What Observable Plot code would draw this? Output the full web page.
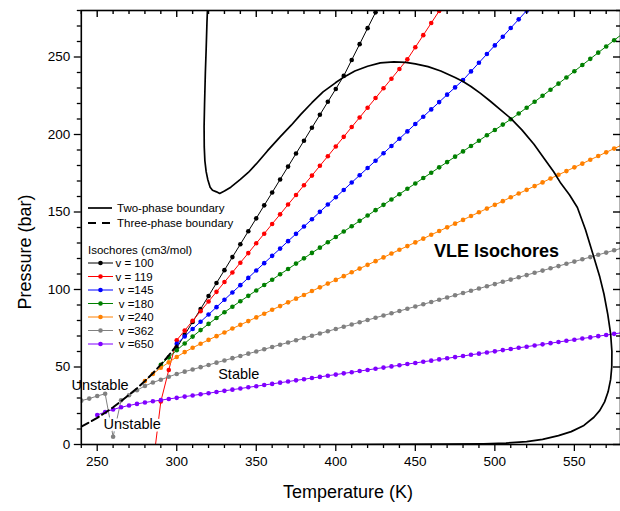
<!DOCTYPE html>
<html><head><meta charset="utf-8">
<script src="https://cdn.jsdelivr.net/npm/d3@7"></script>
<script src="https://cdn.jsdelivr.net/npm/@observablehq/plot@0.6"></script>
<style>
html,body{margin:0;padding:0;background:#fff;}
#chart svg{display:block;}
</style></head><body><div id="chart"></div><script>
// ---- axis ticks ----
const xTicks = [250, 300, 350, 400, 450, 500, 550];
const yTicks = [0, 50, 100, 150, 200, 250];

// ---- isochores: start temperature (K), pressures (bar) every 5 K ----
const seriesLabels = ["v = 100", "v = 119", " v =145", " v =180", " v =240", " v =362", " v =650"];
const seriesColors = ["#000000", "#ff0000", "#0000ff", "#008000", "#ff8000", "#808080", "#8000ff"];
const v100Start = 300;
const v100P = [62.4,70.7,79.1,87.4,95.8,104.2,112.5,120.9,129.2,137.6,145.9,154.3,162.6,171.0,179.3,187.7,196.0,204.4,212.7,221.1,229.4,237.8,248.1,258.3,268.6,278.8,289.0];
const v119Start = 285;
const v119P = [-14,27.7,48.1,67.3,73.5,79.8,86.0,92.3,98.5,104.8,111.0,117.3,123.5,129.8,136.0,142.3,148.5,154.8,161.0,167.3,173.5,179.8,186.0,192.3,198.5,204.8,211.0,217.3,223.5,229.8,236.0,242.3,248.5,256.3,264.1,271.9,279.7,287.5];
const v145Start = 300;
const v145P = [65.0,69.7,74.5,79.2,83.9,88.6,93.4,98.1,102.8,107.5,112.3,117.0,121.7,126.4,131.2,135.9,140.6,145.3,150.1,154.8,159.5,164.2,169.0,173.7,178.4,183.1,187.9,192.6,197.3,202.0,206.8,211.5,216.2,220.9,225.7,230.4,235.1,240.7,246.3,251.9,257.5,263.1,268.7,274.3,279.9,285.5];
const v180Start = 290;
const v180P = [51.5,56.2,60.8,65.2,69.6,73.8,77.8,81.6,85.3,88.9,92.4,95.9,99.4,102.9,106.3,109.8,113.2,116.7,120.1,123.6,127.0,130.5,133.9,137.4,140.8,144.3,147.7,151.2,154.6,158.1,161.5,165.0,168.4,171.9,175.3,178.8,182.2,185.7,189.1,192.6,196.0,199.5,202.9,206.4,209.8,213.5,217.3,221.1,225.0,228.9,232.8,236.8,240.8,244.8,248.8,252.8,256.8,260.8,264.8];
const v240Start = 280;
const v240P = [41.0,45.5,49.5,53.0,56.5,59.6,62.4,65.0,67.5,69.9,72.3,74.8,77.2,79.6,82.0,84.4,86.9,89.3,91.7,94.1,96.5,99.0,101.4,103.8,106.2,108.6,111.1,113.5,115.9,118.3,120.7,123.2,125.6,128.0,130.4,132.8,135.3,137.7,140.1,142.5,144.9,147.4,149.8,152.2,154.6,157.0,159.5,161.9,164.3,166.7,169.1,171.6,174.0,176.4,178.8,181.2,183.7,186.1,188.5,190.9,193.3];
const v362Start = 240;
const v362P = [28.3,29.6,31.3,32.7,5.0,28.5,31.8,35.0,37.8,40.0,41.8,43.7,45.5,47.0,48.4,49.9,51.3,52.8,54.2,55.7,57.1,58.6,60.0,61.5,62.9,64.4,65.8,67.3,68.7,70.2,71.6,73.1,74.5,76.0,77.4,78.9,80.3,81.8,83.2,84.7,86.1,87.6,89.0,90.5,91.9,93.4,94.8,96.3,97.7,99.2,100.6,102.1,103.5,105.0,106.4,107.9,109.3,110.8,112.2,113.7,115.1,116.6,118.0,119.5,120.9,122.4,123.8,125.3,126.7];
const v650Start = 250;
const v650P = [19.0,21.0,22.6,24.0,25.2,26.2,27.1,27.9,28.6,29.4,30.1,30.9,31.6,32.4,33.1,33.9,34.6,35.4,36.1,36.9,37.6,38.4,39.1,39.9,40.6,41.4,42.1,42.9,43.6,44.4,45.1,45.9,46.6,47.4,48.1,48.9,49.6,50.4,51.1,51.9,52.6,53.4,54.1,54.9,55.6,56.4,57.1,57.9,58.6,59.4,60.1,60.9,61.6,62.4,63.1,63.9,64.6,65.4,66.1,66.9,67.6,68.4,69.1,69.9,70.6,71.4,72.1];

// ---- phase boundaries ----
const twoPhaseT = [319.3,319.0,318.5,318.0,317.5,317.2,317.3,317.7,318.5,319.5,321.0,322.5,325.0,327.0,330.0,334.0,340.0,345.0,350.0,357.0,365.0,372.0,378.0,385.0,392.0,400.0,405.0,412.0,420.0,428.0,436.5,444.0,450.0,458.0,466.0,475.0,480.0,485.0,491.0,497.0,504.0,510.0,517.0,524.6,531.0,537.0,541.5,547.0,551.9,557.0,562.3,566.0,568.6,571.0,572.8,573.6,573.5,572.8,571.2,569.0,566.0,562.3,556.0,548.0,540.0,530.0,520.0,507.0,493.0,470.0,440.0,410.0];
const twoPhaseP = [280,272,255,240,220,205,192,183,176,171,166,164,163,162,163.5,166,171,175.5,181,189.4,198.5,206,213,220.5,227.5,233.5,237.0,241.0,244.0,246.2,246.8,246.5,245.6,243.8,241.0,236.8,234.2,231.0,226.5,221.6,215.5,210.4,203.0,193.7,184.5,176.0,168.5,161,152.9,138.5,120.7,108,97.1,84,71.3,60,50,42,34,27.5,22,17.6,12.3,8.3,5.7,3.3,1.8,0.9,0.5,0.2,0.05,0];
const threePhaseT = [240,245,250,255,260,265,270,275,280,285,290,295,300];
const threePhaseP = [11.5,14.3,17.2,20.5,24,28,32,36.3,41,46,51.5,57.5,64];

// ---- annotations ----
const noteText = ["VLE Isochores", "Stable", "Unstable", "Unstable"];
const noteT = [501, 339, 251.8, 272];
const noteP = [125, 45, 38, 13];

const starts = [v100Start, v119Start, v145Start, v180Start, v240Start, v362Start, v650Start];
const pressures = [v100P, v119P, v145P, v180P, v240P, v362P, v650P];
const seriesRows = pressures.map((ps, k) => ps.map((p, i) => ({T: starts[k] + 5 * i, P: p})));
const twoRows = twoPhaseT.map((t, i) => ({T: t, P: twoPhaseP[i]}));
const threeRows = threePhaseT.map((t, i) => ({T: t, P: threePhaseP[i]}));
const notes = noteText.map((s, i) => ({s, T: noteT[i], P: noteP[i]}));

const xMinor = d3.range(240, 580, 10).filter(v => !xTicks.includes(v));
const yMinor = d3.range(0, 281, 10).filter(v => !yTicks.includes(v));
const FONT = "'Liberation Sans', Arial, sans-serif";
const blank = () => "";
const M = {top: 10, right: 0, bottom: 67, left: 80.8};
const W = 620, H = 511;
const X_DOMAIN = [240, 579], Y_DOMAIN = [0, 280];
// data units per pixel, to give the mirrored inward ticks a fixed pixel length
const kx = (X_DOMAIN[1] - X_DOMAIN[0]) / (W - M.left - M.right);
const ky = (Y_DOMAIN[1] - Y_DOMAIN[0]) / (H - M.top - M.bottom);

const isoMarks = seriesRows.flatMap((rows, k) => [
  Plot.line(rows, {x: "T", y: "P", stroke: seriesColors[k], strokeWidth: 1, clip: true}),
  Plot.dot(rows, {x: "T", y: "P", fill: seriesColors[k], r: 2.3, clip: true})
]);

const chart = Plot.plot({
  width: W, height: H,
  marginLeft: M.left, marginRight: M.right, marginTop: M.top, marginBottom: M.bottom,
  style: {fontFamily: FONT, fontSize: "13.5px", background: "#fff", color: "#000"},
  x: {domain: X_DOMAIN},
  y: {domain: Y_DOMAIN},
  marks: [
    ...isoMarks,
    Plot.line(twoRows, {x: "T", y: "P", stroke: "#000", strokeWidth: 1.7, clip: true}),
    Plot.line(threeRows, {x: "T", y: "P", stroke: "#000", strokeWidth: 2, strokeDasharray: "8,4", clip: true}),
    Plot.text(notes.slice(0, 1), {x: "T", y: "P", text: "s", fontSize: 18, fontWeight: "bold", fill: "#000"}),
    Plot.text(notes.slice(1, 3), {x: "T", y: "P", text: "s", fontSize: 14.5, fill: "#000"}),
    Plot.text(notes.slice(3), {x: "T", y: "P", text: "s", fontSize: 14.5, fill: "#000", stroke: "#fff", strokeWidth: 5, paintOrder: "stroke"}),
    Plot.axisX(xTicks, {anchor: "bottom", tickSize: 7, tickPadding: 5, label: null, strokeWidth: 1.3, fontSize: 13.5}),
    Plot.axisX(xMinor, {anchor: "bottom", tickSize: 4, tickFormat: blank, label: null, strokeWidth: 1.3}),
    Plot.axisY(yTicks, {anchor: "left", tickSize: 7, tickPadding: 4, label: null, strokeWidth: 1.3, fontSize: 13.5}),
    Plot.axisY(yMinor, {anchor: "left", tickSize: 4, tickFormat: blank, label: null, strokeWidth: 1.3}),
    // inward ticks on the top and right edges
    Plot.ruleX(xTicks, {x: d => d, y1: Y_DOMAIN[1], y2: Y_DOMAIN[1] - 7 * ky, stroke: "#000", strokeWidth: 1.4}),
    Plot.ruleX(xMinor, {x: d => d, y1: Y_DOMAIN[1], y2: Y_DOMAIN[1] - 4 * ky, stroke: "#000", strokeWidth: 1.4}),
    Plot.ruleY(yTicks, {y: d => d, x1: X_DOMAIN[1], x2: X_DOMAIN[1] - 7 * kx, stroke: "#000", strokeWidth: 1.4}),
    Plot.ruleY(yMinor, {y: d => d, x1: X_DOMAIN[1], x2: X_DOMAIN[1] - 4 * kx, stroke: "#000", strokeWidth: 1.4}),
    Plot.frame({stroke: "#000", strokeWidth: 1.6})
  ]
});
document.getElementById("chart").appendChild(chart);

const svg = d3.select(chart);

// axis titles
svg.append("text").attr("x", 348).attr("y", 498).attr("text-anchor", "middle")
  .attr("font-size", 18).attr("font-family", FONT).attr("fill", "#000").text("Temperature (K)");
svg.append("text").attr("transform", "translate(31,252) rotate(-90)").attr("text-anchor", "middle")
  .attr("font-size", 18).attr("font-family", FONT).attr("fill", "#000").text("Pressure (bar)");

// legend
const lg = svg.append("g").attr("font-family", FONT).attr("font-size", 11.5).attr("fill", "#000").attr("text-anchor", "start");
lg.append("line").attr("x1", 88).attr("x2", 112).attr("y1", 208).attr("y2", 208).attr("stroke", "#000").attr("stroke-width", 1.7);
lg.append("text").attr("x", 117).attr("y", 208).attr("dy", "0.35em").text("Two-phase boundary");
lg.append("line").attr("x1", 88).attr("x2", 112).attr("y1", 223).attr("y2", 223).attr("stroke", "#000").attr("stroke-width", 2).attr("stroke-dasharray", "8,6");
lg.append("text").attr("x", 117).attr("y", 223).attr("dy", "0.35em").text("Three-phase boundary");
lg.append("text").attr("x", 88).attr("y", 250).attr("dy", "0.35em").text("Isochores (cm3/mol)");
seriesLabels.forEach((lab, k) => {
  const y = 263 + 13.5 * k;
  lg.append("line").attr("x1", 88).attr("x2", 113).attr("y1", y).attr("y2", y).attr("stroke", seriesColors[k]).attr("stroke-width", 1);
  lg.append("circle").attr("cx", 100.5).attr("cy", y).attr("r", 2.3).attr("fill", seriesColors[k]);
  lg.append("text").attr("x", 115.5).attr("y", y).attr("dy", "0.35em").style("white-space", "pre").text(lab);
});
</script></body></html>
